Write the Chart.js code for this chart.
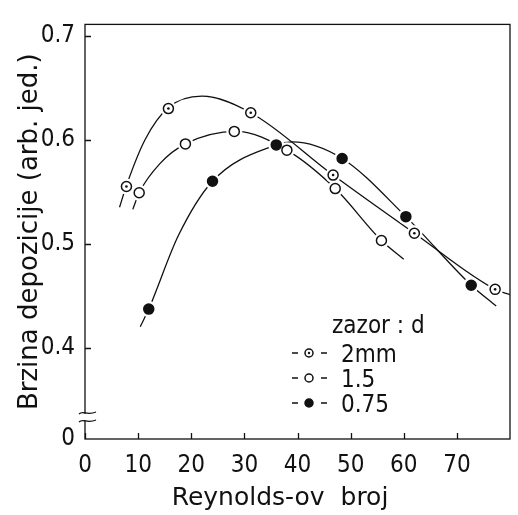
<!DOCTYPE html>
<html>
<head>
<meta charset="utf-8">
<script src="https://cdn.jsdelivr.net/npm/chart.js@4.4.1/dist/chart.umd.min.js"></script>
<style>
  html, body { margin: 0; padding: 0; background: #fff; }
  #wrap { width: 518px; height: 515px; }
</style>
</head>
<body>
<div id="wrap"><canvas id="chart" width="518" height="515"></canvas></div>
<script>
// Measured points (Reynolds number, deposition rate)
const pts2mmX = [7.8, 15.7, 31.2, 46.7, 62.0, 77.2];
const pts2mmY = [0.555, 0.630, 0.626, 0.566, 0.510, 0.456];
const pts15X = [10.2, 18.9, 28.1, 38.0, 47.1, 55.8];
const pts15Y = [0.549, 0.596, 0.608, 0.590, 0.553, 0.503];
const pts075X = [12.0, 24.0, 36.0, 48.4, 60.4, 72.7];
const pts075Y = [0.437, 0.560, 0.595, 0.582, 0.526, 0.460];

// Fitted curves as drawn in the figure
const curve2mmX = [6.5, 7.8, 11.3, 15.7, 22.0, 31.2, 46.7, 62.0, 77.2, 80.0];
const curve2mmY = [0.535, 0.556, 0.600, 0.631, 0.642, 0.626, 0.566, 0.510, 0.456, 0.451];
const curve15X = [9.0, 10.2, 14.1, 18.9, 28.5, 38.0, 47.1, 55.8, 60.0];
const curve15Y = [0.533, 0.549, 0.577, 0.596, 0.608, 0.590, 0.553, 0.503, 0.485];
const curve075X = [10.4, 12.0, 17.6, 24.0, 36.0, 39.0, 48.4, 60.4, 72.7, 77.4];
const curve075Y = [0.420, 0.437, 0.508, 0.560, 0.595, 0.598, 0.582, 0.526, 0.460, 0.440];

// Axes
const xTicks = [0, 10, 20, 30, 40, 50, 60, 70];
const yTicks = [0.4, 0.5, 0.6, 0.7];
const yBreak = 0.312;      // bottom of the broken axis, labelled "0"
const yBreakLabel = '0';
const xTitle = 'Reynolds-ov  broj';
const yTitle = 'Brzina depozicije (arb. jed.)';

// Legend
const legendTitle = 'zazor : d';
const legendLabels = ['2mm', '1.5', '0.75'];
const legendKinds = ['dot', 'open', 'filled'];

const FONT = "'DejaVu Sans Condensed', 'Liberation Sans Narrow', sans-serif";
const TITLE_FONT = "'DejaVu Sans', sans-serif";
const INK = '#111';

const toXY = (xs, ys) => xs.map((x, i) => ({ x: x, y: ys[i] }));

function curveSet(xs, ys) {
    return {
        data: toXY(xs, ys),
        showLine: true,
        borderColor: INK,
        borderWidth: 1.3,
        pointRadius: 0,
        cubicInterpolationMode: 'monotone',
        order: 5
    };
}

function haloSet(xs, ys) {
    return {
        data: toXY(xs, ys),
        pointRadius: 8,
        pointBackgroundColor: '#fff',
        pointBorderWidth: 0,
        order: 3
    };
}

function markerSet(xs, ys, fill) {
    return {
        data: toXY(xs, ys),
        pointRadius: 5,
        pointBackgroundColor: fill,
        pointBorderColor: INK,
        pointBorderWidth: 1.5,
        order: 2
    };
}

// Draws the frame, inward ticks, axis break, x title and the legend
const decor = {
    id: 'decor',
    afterDraw(chart) {
        const ctx = chart.ctx;
        const { left, right, top, bottom } = chart.chartArea;
        const xs = chart.scales.x;
        const ys = chart.scales.y;
        ctx.save();
        ctx.strokeStyle = INK;
        ctx.lineWidth = 1.3;
        ctx.strokeRect(left, top, right - left, bottom - top);

        // inward ticks
        ctx.beginPath();
        xTicks.forEach(v => {
            const px = Math.round(xs.getPixelForValue(v)) + 0.5;
            ctx.moveTo(px, bottom);
            ctx.lineTo(px, bottom - 6);
        });
        yTicks.forEach(v => {
            const py = Math.round(ys.getPixelForValue(v)) + 0.5;
            ctx.moveTo(left, py);
            ctx.lineTo(left + 6, py);
        });
        ctx.stroke();

        // axis break
        const b1 = bottom - 26, b2 = bottom - 18;
        ctx.fillStyle = '#fff';
        ctx.fillRect(left - 3, b1 + 1, 6, b2 - b1 - 2);
        ctx.beginPath();
        [b1, b2].forEach(by => {
            ctx.moveTo(left - 6, by + 1);
            ctx.bezierCurveTo(left - 2, by - 3, left + 2, by + 3, left + 11, by - 1);
        });
        ctx.stroke();

        // x axis title (sits left of centre in the original)
        ctx.fillStyle = INK;
        ctx.font = '25px ' + TITLE_FONT;
        ctx.textAlign = 'center';
        ctx.textBaseline = 'alphabetic';
        ctx.fillText(xTitle, 280, 505);

        // legend
        ctx.font = '24px ' + FONT;
        ctx.textAlign = 'left';
        ctx.fillText(legendTitle, 332, 333);
        const rowY = [353, 378, 403];
        legendLabels.forEach((lab, i) => {
            const cy = rowY[i];
            const cx = 309;
            ctx.lineWidth = 1.5;
            ctx.beginPath();
            ctx.moveTo(292, cy); ctx.lineTo(298, cy);
            ctx.moveTo(321, cy); ctx.lineTo(327, cy);
            ctx.stroke();
            ctx.beginPath();
            ctx.arc(cx, cy, 4, 0, Math.PI * 2);
            ctx.fillStyle = legendKinds[i] === 'filled' ? INK : '#fff';
            ctx.fill();
            ctx.stroke();
            if (legendKinds[i] === 'dot') {
                ctx.beginPath();
                ctx.arc(cx, cy, 1.2, 0, Math.PI * 2);
                ctx.fillStyle = INK;
                ctx.fill();
            }
            ctx.fillStyle = INK;
            ctx.fillText(lab, 341, cy + 9);
        });
        ctx.restore();
    }
};

const ctx = document.getElementById('chart').getContext('2d');
new Chart(ctx, {
    type: 'scatter',
    data: {
        datasets: [
            curveSet(curve2mmX, curve2mmY),
            curveSet(curve15X, curve15Y),
            curveSet(curve075X, curve075Y),
            haloSet(pts2mmX, pts2mmY),
            haloSet(pts15X, pts15Y),
            haloSet(pts075X, pts075Y),
            markerSet(pts2mmX, pts2mmY, '#fff'),
            markerSet(pts15X, pts15Y, '#fff'),
            markerSet(pts075X, pts075Y, INK),
            // centre dots of the 2mm markers
            { data: toXY(pts2mmX, pts2mmY), pointRadius: 1.3, pointBackgroundColor: INK,
              pointBorderWidth: 0, order: 1 }
        ]
    },
    options: {
        responsive: false,
        animation: false,
        events: [],
        layout: { padding: { top: 12, right: 2, left: 0, bottom: 0 } },
        plugins: { legend: { display: false }, tooltip: { enabled: false } },
        scales: {
            x: {
                type: 'linear',
                min: 0,
                max: 80,
                afterBuildTicks: s => { s.ticks = xTicks.map(v => ({ value: v })); },
                afterFit: s => { s.height = 76; },
                grid: { display: false, drawTicks: false },
                border: { display: false },
                ticks: { color: INK, font: { family: FONT, size: 24 }, padding: 12, maxRotation: 0 },
                title: { display: false }
            },
            y: {
                type: 'linear',
                min: yBreak,
                max: 0.711,
                afterBuildTicks: s => { s.ticks = [yBreak].concat(yTicks).map(v => ({ value: v })); },
                afterFit: s => { s.width = 85; },
                grid: { display: false, drawTicks: false },
                border: { display: false },
                ticks: {
                    color: INK,
                    font: { family: FONT, size: 24 },
                    padding: 10,
                    callback: v => (v === yBreak ? yBreakLabel : v.toFixed(1))
                },
                title: { display: true, text: yTitle, color: INK, font: { family: TITLE_FONT, size: 26 },
                         padding: { top: 15, bottom: 0 } }
            }
        }
    },
    plugins: [decor]
});
</script>
</body>
</html>
